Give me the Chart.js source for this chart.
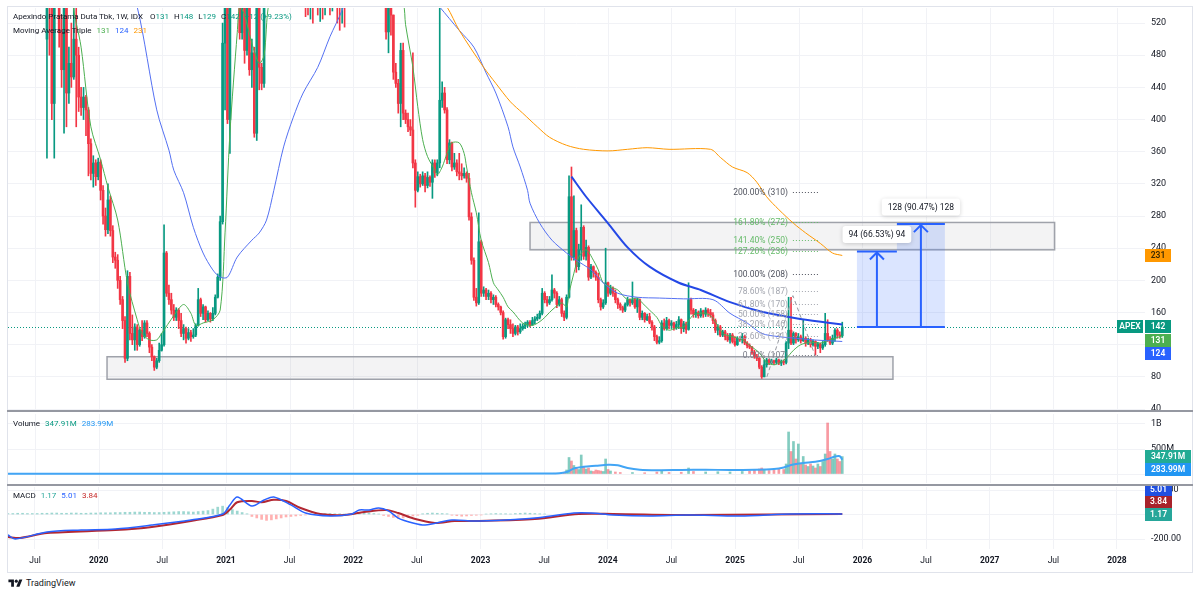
<!DOCTYPE html>
<html>
<head>
<meta charset="utf-8">
<script src="https://cdn.jsdelivr.net/npm/chart.js@4.4.1/dist/chart.umd.min.js"></script>
<style>
  html, body { margin: 0; padding: 0; background: #fff; }
  #wrap { position: relative; width: 1200px; height: 595px; overflow: hidden; font-family: Roboto, "Noto Sans", sans-serif; color: #131722; }
  canvas { position: absolute; left: 0; }
  .frame { position: absolute; left: 7px; top: 6px; width: 1186px; height: 567px; border: 1px solid #e0e3eb; box-sizing: border-box; }
  .sep { position: absolute; left: 7px; width: 1186px; height: 2px; background: #9598a1; }
  .lg { position: absolute; left: 13px; font-size: 8px; line-height: 10px; white-space: nowrap; z-index: 5; }
  .lg b { font-weight: normal; margin-right: 5px; }
  .up { color: #089981; }
  .ma1 { color: #4caf50; } .ma2 { color: #2962ff; } .ma3 { color: #ff9800; }
  .vb { color: #2196f3; } .teal { color: #26a69a; } .red { color: #c62828; }
  #logo { position: absolute; left: 8px; top: 578px; font-size: 9px; line-height: 11px; display: flex; align-items: center; gap: 3px; }
</style>
</head>
<body>
<div id="wrap">
  <canvas id="price" width="1200" height="410" style="top:0"></canvas>
  <canvas id="vol" width="1200" height="72" style="top:412px"></canvas>
  <canvas id="macd" width="1200" height="86" style="top:486px"></canvas>
  <div class="frame"></div>
  <div class="sep" style="top:410px"></div>
  <div class="sep" style="top:484px"></div>

  <div class="lg" style="top:12px">
    <b>Apexindo Pratama Duta Tbk, 1W, IDX</b>
    <b>O<span class="up">131</span></b><b>H<span class="up">148</span></b><b>L<span class="up">129</span></b><b>C<span class="up">142</span></b><b class="up">+12 (+9.23%)</b>
  </div>
  <div class="lg" style="top:26px">
    <b>Moving Average Triple</b><b class="ma1">131</b><b class="ma2">124</b><b class="ma3">231</b>
  </div>
  <div class="lg" style="top:419px">
    <b>Volume</b><b class="up">347.91M</b><b class="vb">283.99M</b>
  </div>
  <div class="lg" style="top:491px">
    <b>MACD</b><b class="teal">1.17</b><b class="ma2">5.01</b><b class="red">3.84</b>
  </div>
  <div id="logo">
    <svg width="15" height="11" viewBox="0 0 36 28"><path fill="#131722" d="M14 22H7V11H0V4h14v18zM28 22h-8l7.5-18h8L28 22z"/><circle fill="#131722" cx="20" cy="8" r="4"/></svg>
    <span>TradingView</span>
  </div>
</div>

<script>
// ---- time axis (decimal years) ----
const xMin = 2019.288;
const xMax = 2028.22;
const xTickTimes = [2019.5, 2020, 2020.5, 2021, 2021.5, 2022, 2022.5, 2023, 2023.5, 2024, 2024.5, 2025, 2025.5, 2026, 2026.5, 2027, 2027.5, 2028];
const xTickLabels = ['Jul', '2020', 'Jul', '2021', 'Jul', '2022', 'Jul', '2023', 'Jul', '2024', 'Jul', '2025', 'Jul', '2026', 'Jul', '2027', 'Jul', '2028'];

// weekly candles, week 0 = first visible bar
const firstWeekT = 2019.594;
const weekYears = 7 / 365.25;
const firstOpen = 500;

const closes = [
  560,540,420,560,600,508,462,560,433,470, 453,500,480,428,415,428,412,370,333,346,
  329,347,312,280,263,300,262,229,225,200, 176,150,103,205,134,126,142,120,138,130,
  147,134,117,105,92,100,113,120,234,184, 176,163,154,163,150,134,140,128,135,130,
  132,144,176,159,167,151,159,152,159,179, 204,273,495,620,400,600,650,700,640,508,
  560,486,540,462,483,383,600,465,445,620, 680,720,700,760,800,780,740,760,720,700,
  680,660,640,620,600,590,560,545,570,552, 580,548,565,540,575,560,545,590,600,560,
  545,580,560,600,640,680,700,720,690,660, 700,740,720,680,650,630,610,590,580,509,
  560,530,459,445,420,486,408,400,391,387, 346,312,329,320,330,318,328,322,346,334,
  346,424,433,412,350,371,341,346,335,333, 330,333,327,279,225,179,172,248,184,188,
  180,184,176,179,170,167,160,130,151,145, 140,134,142,136,140,143,145,148,145,150,
  152,154,159,184,176,172,176,188,184,170, 176,159,154,179,304,229,262,217,238,266,
  230,241,204,217,210,204,176,167,172,197, 184,190,184,176,170,166,163,170,176,172,
  176,167,176,154,159,151,155,148,142,130, 123,125,147,140,150,144,147,141,145,151,
  140,146,139,176,163,158,160,156,162,158, 163,160,157,150,138,142,132,136,130,126,
  132,124,120,128,126,130,122,119,117,110, 105,103,92,80,95,101,97,100,98,101,
  97,99,98,122,138,122,134,126,130,125, 128,122,126,120,124,118,121,116,120,134,
  126,122,128,138,132,131,142
];
const highs = [
  620,600,560,580,640,620,530,580,570,490, 520,540,560,490,440,440,430,415,376,355,
  350,352,350,318,290,320,305,268,235,232, 205,180,155,212,210,157,146,145,140,150,
  150,150,136,120,106,103,122,134,269,236, 194,184,170,166,165,159,145,142,140,138,
  140,146,190,178,170,168,162,160,166,182, 208,280,520,660,640,620,700,760,720,650,
  600,580,560,550,500,490,620,610,470,640, 700,750,740,790,830,820,790,780,770,730,
  710,690,670,650,630,615,600,580,590,575, 600,590,580,570,590,590,570,620,640,610,
  570,600,590,620,660,700,730,750,730,700, 720,760,750,720,690,660,640,620,600,600,
  570,570,530,470,450,495,495,412,408,400, 483,350,335,332,335,333,335,330,350,350,
  350,540,447,440,415,375,372,358,350,358, 345,340,335,333,284,228,190,284,250,192,
  190,188,186,182,181,172,168,162,153,153, 151,146,144,144,146,146,148,150,150,154,
  155,158,162,190,186,180,180,207,190,186, 180,178,162,182,330,341,305,265,245,294,
  268,250,243,220,218,212,209,178,176,240, 198,194,192,188,178,172,168,172,179,177,
  198,178,178,177,162,160,158,159,150,144, 132,130,150,152,154,152,150,148,149,155,
  152,149,148,197,178,165,164,162,165,163, 166,165,164,160,152,145,144,138,138,134,
  134,134,130,130,130,134,132,124,121,118, 113,108,104,94,101,103,102,102,101,103,
  102,101,101,124,179,179,136,135,134,132, 151,130,128,128,126,125,123,122,124,159,
  151,130,132,140,140,136,148
];
const lows = [
  352,480,400,352,540,490,440,383,391,420, 440,450,391,410,405,400,380,330,325,316,
  318,325,300,270,255,258,255,222,215,190, 170,140,98,100,126,120,113,113,118,125,
  128,130,110,100,88,90,98,112,118,180, 170,158,150,150,140,130,126,122,126,124,
  128,130,143,155,151,148,150,148,150,157, 178,200,270,412,395,358,580,620,600,500,
  500,470,480,455,440,378,374,437,437,440, 610,660,670,690,740,740,710,720,700,680,
  650,630,610,590,570,555,528,530,525,520, 540,530,522,525,530,540,530,535,560,520,
  511,520,515,545,590,630,660,680,660,630, 650,690,690,650,620,600,580,565,555,500,
  483,505,450,440,408,391,400,395,385,380, 340,291,310,316,318,310,315,317,302,328,
  330,340,415,408,345,345,336,338,330,325, 325,327,322,275,220,175,168,170,180,180,
  176,176,172,170,167,163,157,127,128,140, 134,130,132,132,134,138,140,142,142,144,
  146,150,152,157,172,168,170,174,178,166, 168,155,150,152,178,225,225,210,213,225,
  226,225,200,202,204,200,172,163,165,170, 180,182,180,172,165,163,160,161,168,168,
  170,165,160,151,151,148,150,146,138,125, 121,121,123,138,138,140,140,138,139,140,
  134,136,134,138,158,154,154,153,154,154, 155,155,154,146,135,132,130,130,126,124,
  122,122,118,119,124,122,120,116,115,108, 103,100,90,78,80,92,95,96,95,96,
  95,94,95,96,115,120,120,122,124,122, 124,118,120,117,118,107,115,110,114,118,
  124,120,120,124,128,128,129
];

// moving averages: [week, value]
const maFast = [[1,600],[9,560],[12,520],[14,490],[18,391],[22,350],[25,316],[29,275],[33,197],[37,151],[39,134],[42,126],[45,126],[47,134],[52,156],[56,170],[59,159],[61,144],[64,147],[68,151],[71,163],[73,259],[75,383],[78,508],[79,540],[81,530],[84,495],[87,470],[89,480],[91,545],[100,650],[120,570],[140,580],[146,545],[147,518],[150,465],[152,416],[154,375],[156,354],[159,337],[160,331],[162,341],[164,358],[166,371],[169,371],[171,358],[172,341],[174,309],[176,284],[178,250],[181,222],[183,197],[185,188],[187,179],[189,167],[191,161],[195,147],[199,144],[203,151],[207,163],[211,172],[213,167],[214,184],[216,209],[218,229],[221,238],[224,225],[226,213],[228,197],[231,192],[234,188],[238,176],[242,178],[244,172],[247,163],[250,154],[252,144],[255,138],[258,141],[261,142],[265,157],[270,159],[273,153],[277,134],[281,130],[285,126],[289,117],[292,110],[295,98],[298,95],[300,97],[303,103],[306,113],[309,120],[313,123],[317,122],[321,126],[326,131]];
const maMid = [[30,600],[37,540],[45,412],[50,362],[52,337],[56,309],[60,266],[64,234],[68,213],[71,204],[74,204],[78,229],[84,250],[87,259],[90,275],[93,312],[97,366],[101,403],[105,433],[111,465],[116,503],[121,536],[126,580],[135,620],[150,580],[161,540],[169,511],[175,490],[180,458],[184,433],[189,391],[191,366],[194,341],[197,312],[198,296],[202,271],[207,250],[213,234],[217,225],[223,213],[228,197],[234,184],[242,179],[251,178],[261,177],[273,176],[280,159],[287,147],[293,134],[300,130],[307,128],[314,126],[326,124]];
const maSlow = [[150,600],[164,540],[169,511],[179,465],[184,445],[190,422],[195,408],[201,391],[206,378],[213,368],[220,363],[230,361],[238,363],[246,365],[255,363],[272,363],[276,353],[281,341],[287,334],[291,322],[295,304],[300,288],[306,271],[311,259],[317,246],[322,234],[326,231]];
const maLast = [131, 124, 231];

// hand-drawn descending curve
const curvePts = [[215,329],[221,304],[230,271],[238,241],[247,217],[259,197],[268,188],[280,173],[293,161],[307,153],[321,147],[326,145]];

// drawings
const lastPrice = 142;
const priceTicks = [40, 80, 120, 160, 200, 240, 280, 320, 360, 400, 440, 480, 520];
const zoneLowT = [2020.066, 2026.24], zoneLowP = [77, 105];
const zoneHighT = [2023.389, 2027.51], zoneHighP = [238, 272];
const fibT = [2025.454, 2025.651];
const fibPct = ['200.00%', '161.80%', '141.40%', '127.20%', '100.00%', '78.60%', '61.80%', '50.00%', '38.20%', '23.60%', '0.00%'];
const fibPrice = [310, 272, 250, 236, 208, 187, 170, 158, 146, 131, 107];
const fibTrend = [[2025.25, 80], [2025.454, 181], [2025.627, 107]];
const measureT = [2025.957, 2026.271, 2026.648];
const measureBase = 142;
const measureTop = [236, 270];
const measureText = ['94 (66.53%) 94', '128 (90.47%) 128'];

// volume (millions) for weeks with visible bars
const volWeek = [200,205,208,212,213,214,215,216,217,218,219,220,221,222,223,224,225,226,227,228,229,230,231,233,235,240,245,250,252,255,260,263,265,270,275,280,285,288,290,292,293,294,296,298,300,302,303,304,305,306,307,308,309,310,311,312,313,314,315,316,317,318,319,320,321,322,323,324,325,326];
const volM = [10,12,15,20,80,330,260,170,120,90,380,150,100,120,60,50,80,70,60,50,300,90,60,40,30,30,25,40,60,30,35,120,50,40,45,40,50,60,80,100,120,90,70,80,100,90,200,840,450,650,300,600,200,350,180,150,200,160,120,200,150,250,400,1020,450,300,400,300,250,348];
const volMa = [[-16,4],[100,5],[200,8],[210,15],[213,40],[216,110],[220,145],[225,165],[230,185],[234,175],[238,120],[243,85],[250,75],[260,80],[270,85],[280,80],[290,85],[298,100],[302,130],[305,180],[310,220],[315,245],[320,300],[323,350],[325,355],[326,284]];
const volTicks = [0, 500, 1000], volTickLabels = ['0', '500M', '1B'];
const volLast = [347.91, 283.99];

// MACD
const macdLine = [[-16,-167],[-13,-200],[0,-143],[14,-127],[28,-118],[43,-86],[59,-45],[72,4],[75,78],[78,143],[84,69],[89,118],[93,143],[100,78],[106,12],[116,-12],[125,4],[128,37],[132,37],[136,53],[140,29],[144,-29],[150,-69],[155,-86],[166,-45],[175,-53],[188,-45],[200,-29],[216,12],[223,12],[232,-4],[247,-12],[263,-4],[284,-12],[305,4],[326,5]];
const signalLine = [[-16,-184],[-11,-192],[0,-151],[28,-127],[43,-102],[59,-53],[72,-4],[75,40],[78,100],[84,110],[88,100],[93,120],[98,110],[104,53],[112,4],[122,-4],[130,20],[139,37],[144,12],[151,-37],[159,-69],[167,-53],[177,-53],[200,-37],[218,4],[232,4],[264,-4],[326,4]];
const histFirstWeek = -16, histEvery = 2;
const histVals = [8,8,10,10,8,8, 8,10,10,12,12,10,10,12,12,10,10,12,12,14,14, 14,16,16,18,18,20,20,18,18,16,
  16,18,20,22,24,24,22,20,24,28,32, 44,60,68,56,40, 28,16,6, -16,-28,-40,-48,-44,-36,-28,-20,-16,-12,-8,-4,
  4,6,6,8,8,6,6,4,4, 12,18,16,12,8,4, -8,-16,-24,-32,-28,-20,-12,-6, 6,10,12,10,8,6,-6,-10,-14,-12,-8,
  -6,-4,4,6,8,6,6,4,8,10,12,10,8,6,4];
const macdTicks = [200, 0, -200], macdTickLabels = ['200.00', '0.00', '-200.00'];
const macdLast = [5.01, 3.84, 1.17];

// ---- styling ----
const FONT = 'Roboto, "Noto Sans", sans-serif';
const UP = '#089981', DOWN = '#f23645';
const GRID = '#f1f2f6', TEXT = '#131722';

const weekT = w => firstWeekT + w * weekYears;
const toPts = pairs => pairs.map(([w, v]) => ({ x: weekT(w), y: v }));
const opens = closes.map((c, i) => i === 0 ? firstOpen : closes[i - 1]);
const isUp = i => closes[i] >= opens[i];
const candleColors = closes.map((c, i) => isUp(i) ? UP : DOWN);

function timeAxis(showLabels) {
  return {
    type: 'linear', min: xMin, max: xMax, offset: false, display: showLabels,
    afterBuildTicks: s => { s.ticks = xTickTimes.map(v => ({ value: v })); },
    afterFit: s => { s.height = showLabels ? 23 : 0; s.paddingLeft = 0; s.paddingRight = 0; },
    grid: { color: GRID, drawTicks: false, offset: false },
    border: { display: false },
    ticks: {
      autoSkip: false, maxRotation: 0, padding: 7, color: TEXT,
      font: c => ({ family: FONT, size: 8.5, weight: (xTickLabels[c.index] || '').length === 4 ? 'bold' : 'normal' }),
      callback: (v, i) => xTickLabels[i]
    }
  };
}
function valueAxis(min, max, ticks, labels) {
  return {
    position: 'right', min, max,
    afterBuildTicks: s => { s.ticks = ticks.map(v => ({ value: v })); },
    // keep the pane edges where they are: no room reserved for edge labels
    afterFit: s => { s.width = 55; s.paddingTop = 0; s.paddingBottom = 0; },
    grid: { color: GRID, drawTicks: false },
    border: { display: false },
    ticks: { padding: 6, color: TEXT, font: { family: FONT, size: 9 }, callback: (v, i) => labels[i] }
  };
}
const baseOptions = (padding) => ({
  responsive: false, animation: false, events: [],
  layout: { padding, autoPadding: false },
  plugins: { legend: { display: false }, tooltip: { enabled: false } }
});

// vertical grid for panes whose time axis is hidden
const vGrid = {
  id: 'vGrid',
  beforeDatasetsDraw(chart) {
    const { ctx, chartArea: a, scales: { x } } = chart;
    ctx.save();
    ctx.strokeStyle = GRID; ctx.lineWidth = 1;
    xTickTimes.forEach(t => {
      const px = Math.round(x.getPixelForValue(t)) + 0.5;
      ctx.beginPath(); ctx.moveTo(px, a.top); ctx.lineTo(px, a.bottom); ctx.stroke();
    });
    ctx.restore();
  }
};

function tag(ctx, text, left, cy, w, bg, fg) {
  ctx.fillStyle = bg;
  ctx.fillRect(left, Math.round(cy - 6.5), w, 13);
  ctx.fillStyle = fg;
  ctx.font = `600 8.5px ${FONT}`;
  ctx.textAlign = 'center';
  ctx.textBaseline = 'middle';
  ctx.fillText(text, left + w / 2, Math.round(cy - 6.5) + 7);
}
function clipArea(ctx, a) {
  ctx.beginPath();
  ctx.rect(a.left, a.top, a.right - a.left, a.bottom - a.top);
  ctx.clip();
}

// ---- price pane ----
const fibColors = ['#50535e', '#66bb6a', '#66bb6a', '#66bb6a', '#50535e', '#a3a6af', '#a3a6af', '#a3a6af', '#a3a6af', '#a3a6af', '#787b86'];

const priceDrawings = {
  id: 'priceDrawings',
  beforeDatasetsDraw(chart) {
    const { ctx, chartArea: a, scales: { x, y } } = chart;
    ctx.save();
    clipArea(ctx, a);
    [[zoneLowT, zoneLowP], [zoneHighT, zoneHighP]].forEach(([t, p]) => {
      const l = x.getPixelForValue(t[0]), r = x.getPixelForValue(t[1]);
      const top = y.getPixelForValue(p[1]), bot = y.getPixelForValue(p[0]);
      ctx.fillStyle = 'rgba(120,123,134,0.09)';
      ctx.fillRect(l, top, r - l, bot - top);
      ctx.strokeStyle = '#9fa2aa';
      ctx.lineWidth = 1.5;
      ctx.strokeRect(l, top, r - l, bot - top);
    });
    const ly = Math.round(y.getPixelForValue(lastPrice)) + 0.5;
    ctx.strokeStyle = UP; ctx.lineWidth = 1; ctx.setLineDash([1, 2]);
    ctx.beginPath(); ctx.moveTo(a.left, ly); ctx.lineTo(a.right, ly); ctx.stroke();
    ctx.restore();
  },
  afterDatasetsDraw(chart) {
    const { ctx, chartArea: a, scales: { x, y } } = chart;
    ctx.save();
    clipArea(ctx, a);
    // fib trend
    ctx.strokeStyle = '#9598a1'; ctx.lineWidth = 1; ctx.setLineDash([4, 3]);
    ctx.beginPath();
    fibTrend.forEach(([t, v], k) => {
      const px = x.getPixelForValue(t), py = y.getPixelForValue(v);
      k ? ctx.lineTo(px, py) : ctx.moveTo(px, py);
    });
    ctx.stroke();
    // fib levels
    const fl = x.getPixelForValue(fibT[0]), fr = x.getPixelForValue(fibT[1]);
    ctx.font = `8.5px ${FONT}`; ctx.textAlign = 'right'; ctx.textBaseline = 'middle';
    fibPrice.forEach((p, k) => {
      const py = Math.round(y.getPixelForValue(p)) + 0.5;
      ctx.setLineDash([1, 2]); ctx.strokeStyle = fibColors[k];
      ctx.beginPath(); ctx.moveTo(fl, py); ctx.lineTo(fr, py); ctx.stroke();
      ctx.fillStyle = fibColors[k];
      ctx.fillText(`${fibPct[k]} (${p})`, fl - 5, py);
    });
    ctx.setLineDash([]);
    // measure boxes
    const base = y.getPixelForValue(measureBase);
    measureTop.forEach((top, k) => {
      const l = x.getPixelForValue(measureT[k]), r = x.getPixelForValue(measureT[k + 1]);
      const ty = y.getPixelForValue(top), cx = (l + r) / 2;
      ctx.fillStyle = 'rgba(41,98,255,0.17)';
      ctx.fillRect(l, ty, r - l, base - ty);
      ctx.strokeStyle = '#2962ff'; ctx.lineWidth = 2;
      ctx.beginPath(); ctx.moveTo(l, ty); ctx.lineTo(r, ty); ctx.stroke();
      ctx.beginPath(); ctx.moveTo(cx, base); ctx.lineTo(cx, ty + 1); ctx.stroke();
      ctx.beginPath(); ctx.moveTo(cx - 7, ty + 8); ctx.lineTo(cx, ty + 1); ctx.lineTo(cx + 7, ty + 8); ctx.stroke();
    });
    ctx.strokeStyle = '#2962ff'; ctx.lineWidth = 2;
    ctx.beginPath(); ctx.moveTo(x.getPixelForValue(measureT[0]), base); ctx.lineTo(x.getPixelForValue(measureT[2]), base); ctx.stroke();
    measureTop.forEach((top, k) => {
      const l = x.getPixelForValue(measureT[k]), r = x.getPixelForValue(measureT[k + 1]);
      const cy = y.getPixelForValue(top) - 17, cx = (l + r) / 2;
      ctx.font = `8.5px ${FONT}`;
      const w = ctx.measureText(measureText[k]).width + 12;
      ctx.save();
      ctx.shadowColor = 'rgba(0,0,0,0.18)'; ctx.shadowBlur = 4; ctx.shadowOffsetY = 1;
      ctx.fillStyle = '#fff';
      ctx.beginPath();
      if (ctx.roundRect) ctx.roundRect(cx - w / 2, cy - 8.5, w, 17, 3); else ctx.rect(cx - w / 2, cy - 8.5, w, 17);
      ctx.fill();
      ctx.restore();
      ctx.fillStyle = TEXT; ctx.textAlign = 'center'; ctx.textBaseline = 'middle';
      ctx.fillText(measureText[k], cx, cy + 0.5);
    });
    ctx.restore();
  },
  afterDraw(chart) {
    const { ctx, chartArea: a, scales: { y } } = chart;
    ctx.save();
    const c0 = y.getPixelForValue(lastPrice);
    tag(ctx, 'APEX', a.right - 28, c0, 26, UP, '#fff');
    tag(ctx, String(lastPrice), a.right, c0, 26, UP, '#fff');
    tag(ctx, String(maLast[0]), a.right, c0 + 13.5, 26, '#4caf50', '#fff');
    tag(ctx, String(maLast[1]), a.right, c0 + 27, 26, '#2962ff', '#fff');
    tag(ctx, String(maLast[2]), a.right, y.getPixelForValue(maLast[2]), 26, '#ff9800', '#3b2a00');
    ctx.restore();
  }
};

const maLine = (data, color, width, order) => ({
  type: 'line', data: toPts(data), borderColor: color, borderWidth: width,
  pointRadius: 0, tension: 0.3, fill: false, order
});

new Chart(document.getElementById('price'), {
  type: 'bar',
  data: {
    datasets: [
      maLine(curvePts, '#2448e6', 2, 1),
      maLine(maSlow, '#ff9800', 1, 2),
      maLine(maMid, '#5470f2', 1, 2),
      maLine(maFast, '#4caf50', 1, 2),
      {
        data: closes.map((c, i) => ({ x: weekT(i), y: [lows[i], highs[i]] })),
        backgroundColor: candleColors, barThickness: 1, grouped: false, order: 10
      },
      {
        data: closes.map((c, i) => ({ x: weekT(i), y: [opens[i], c] })),
        backgroundColor: candleColors, barThickness: 2, grouped: false, order: 9
      }
    ]
  },
  options: Object.assign(baseOptions({ left: 8, top: 8, right: 0, bottom: 0 }), {
    scales: {
      x: timeAxis(false),
      y: valueAxis(38.76, 538.76, priceTicks, priceTicks.map(String))
    }
  }),
  plugins: [vGrid, priceDrawings]
});

// ---- volume pane ----
const volTags = {
  id: 'volTags',
  afterDraw(chart) {
    const { ctx, chartArea: a, scales: { y } } = chart;
    const c0 = y.getPixelForValue(volLast[0]);
    tag(ctx, volLast[0].toFixed(2) + 'M', a.right, c0, 46, '#22ab94', '#fff');
    tag(ctx, volLast[1].toFixed(2) + 'M', a.right, c0 + 12.5, 46, '#2196f3', '#fff');
  }
};
new Chart(document.getElementById('vol'), {
  type: 'bar',
  data: {
    datasets: [
      { type: 'line', data: toPts(volMa), borderColor: '#42a5f5', borderWidth: 2, pointRadius: 0, tension: 0.3, order: 1 },
      {
        data: volWeek.map((w, k) => ({ x: weekT(w), y: volM[k] })),
        backgroundColor: volWeek.map(w => isUp(w) ? 'rgba(8,153,129,0.5)' : 'rgba(242,54,69,0.5)'),
        barThickness: 2, grouped: false, order: 5
      }
    ]
  },
  options: Object.assign(baseOptions({ left: 8, top: 2, right: 0, bottom: 1 }), {
    scales: { x: timeAxis(false), y: valueAxis(-180, 1200, volTicks, volTickLabels) }
  }),
  plugins: [vGrid, volTags]
});

// ---- MACD pane ----
const macdTags = {
  id: 'macdTags',
  afterDraw(chart) {
    const { ctx, chartArea: a, scales: { y } } = chart;
    const c0 = y.getPixelForValue(macdLast[2]);
    tag(ctx, macdLast[2].toFixed(2), a.right, c0, 27, '#26a69a', '#fff');
    tag(ctx, macdLast[1].toFixed(2), a.right, c0 - 12.5, 27, '#a8232b', '#fff');
    tag(ctx, macdLast[0].toFixed(2), a.right, c0 - 25, 27, '#1f4fe0', '#fff');
  }
};
new Chart(document.getElementById('macd'), {
  type: 'bar',
  data: {
    datasets: [
      { type: 'line', data: toPts(macdLine), borderColor: '#2962ff', borderWidth: 1.5, pointRadius: 0, tension: 0.3, order: 1 },
      { type: 'line', data: toPts(signalLine), borderColor: '#b22833', borderWidth: 2, pointRadius: 0, tension: 0.3, order: 2 },
      {
        data: histVals.map((h, j) => ({ x: weekT(histFirstWeek + j * histEvery), y: h })),
        backgroundColor: histVals.map(h => h >= 0 ? 'rgba(38,166,154,0.45)' : 'rgba(255,82,82,0.45)'),
        barThickness: 2, grouped: false, order: 5
      }
    ]
  },
  options: Object.assign(baseOptions({ left: 8, top: 1, right: 0, bottom: 0 }), {
    scales: { x: timeAxis(true), y: valueAxis(-281.6, 224.5, macdTicks, macdTickLabels) }
  }),
  plugins: [macdTags]
});
</script>
</body>
</html>
